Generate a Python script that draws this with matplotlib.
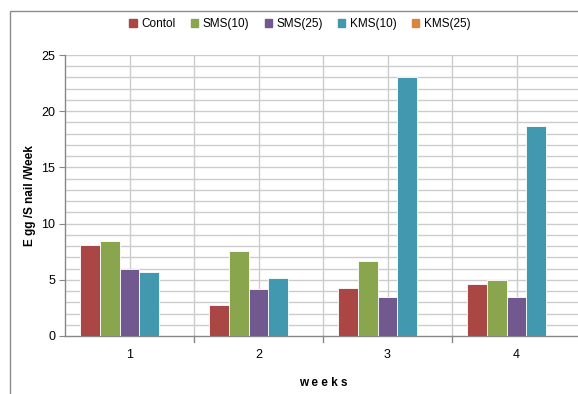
import numpy as np
import matplotlib
matplotlib.use('Agg')
import matplotlib.pyplot as plt
from matplotlib.patches import Rectangle

plt.rcParams['font.family'] = ['Liberation Sans', 'DejaVu Sans']

# Data
weeks = ['1', '2', '3', '4']
series = ['Contol', 'SMS(10)', 'SMS(25)', 'KMS(10)', 'KMS(25)']
contol = [8.1, 2.75, 4.25, 4.65]
sms10 = [8.45, 7.6, 6.7, 5.0]
sms25 = [6.0, 4.15, 3.5, 3.5]
kms10 = [5.65, 5.2, 23.05, 18.7]
kms25 = [0, 0, 0, 0]
colors = ['#AA4643', '#89A54E', '#71588F', '#4198AF', '#DB843D']

values = [contol, sms10, sms25, kms10, kms25]

fig = plt.figure(figsize=(5.78, 3.94), dpi=100)
ax = fig.add_axes([65/578, 1-336/394, 516/578, 281/394])

# outer chart border
fig.patches.append(Rectangle((10/578, -0.1), 1.2, (394-11)/394 + 0.1, transform=fig.transFigure,
                             fill=False, edgecolor='#8c8c8c', linewidth=1.0))

x = np.arange(1, len(weeks)+1)
w = 0.152
for i, (vals, name, c) in enumerate(zip(values, series, colors)):
    ax.bar(x + (i-2)*w, vals, width=w, color=c, edgecolor='white', linewidth=0.6, label=name, zorder=3)

ax.set_xlim(0.5, 4.5)
ax.set_ylim(0, 25)

# gridlines
for yv in range(1, 26):
    ax.axhline(yv, color='#cccccc', linewidth=1.0, zorder=1)
for xv in np.arange(1, 4.5, 0.5):
    ax.axvline(xv, color='#cccccc', linewidth=1.0, zorder=1)

ax.set_yticks([0, 5, 10, 15, 20, 25])
ax.set_xticks(x)
ax.set_xticklabels(weeks)
ax.tick_params(axis='x', length=0, labelsize=9, pad=9)
ax.tick_params(axis='y', length=4, color='#888888', labelsize=9, pad=3)
for xv in [1.5, 2.5, 3.5]:
    ax.plot([xv, xv], [0, -0.55], color='#888888', linewidth=1, clip_on=False, zorder=4)

for s in ['top', 'right']:
    ax.spines[s].set_visible(False)
for s in ['left', 'bottom']:
    ax.spines[s].set_color('#888888')
    ax.spines[s].set_linewidth(1.0)

ax.set_ylabel('E gg /S nail /Week', fontsize=8.5, fontweight='bold', labelpad=4)
ax.set_xlabel('w e e k s', fontsize=8.5, fontweight='bold', labelpad=12)

handles = [Rectangle((0, 0), 1, 1, color=c) for c in colors]
fig.legend(handles, series, loc='center', bbox_to_anchor=(300/578, 1-24/394), ncol=5,
           frameon=False, fontsize=8.5, handlelength=0.6, handleheight=0.6,
           handletextpad=0.4, columnspacing=1.3)

fig.savefig('out.png', dpi=100)
